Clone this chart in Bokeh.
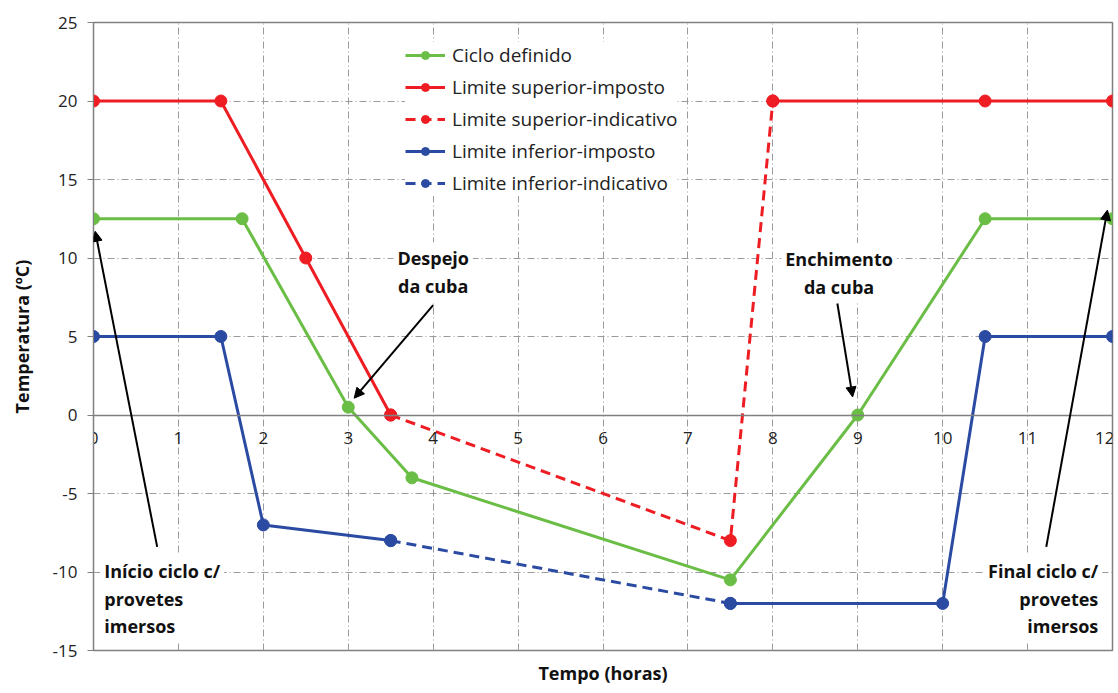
import math
from bokeh.plotting import figure
from bokeh.models import (Range1d, SingleIntervalTicker, Legend, LegendItem, Title,
                          Arrow, NormalHead, ColumnDataSource, PrintfTickFormatter)
from bokeh.core.properties import value
from bokeh.embed import file_html
from bokeh.resources import INLINE

nan = float("nan")

# ---- data (hours, temperature ºC) ----
ciclo_x = [0, 1.75, 3, 3.75, 7.5, 9, 10.5, 12]
ciclo_y = [12.5, 12.5, 0.5, -4, -10.5, 0, 12.5, 12.5]

sup_imposto_x = [0, 1.5, 2.5, 3.5, nan, 8, 10.5, 12]
sup_imposto_y = [20, 20, 10, 0, nan, 20, 20, 20]

sup_indicativo_x = [3.5, 7.5, 8]
sup_indicativo_y = [0, -8, 20]

inf_imposto_x = [0, 1.5, 2, 3.5, nan, 7.5, 10, 10.5, 12]
inf_imposto_y = [5, 5, -7, -8, nan, -12, -12, 5, 5]

inf_indicativo_x = [3.5, 7.5]
inf_indicativo_y = [-8, -12]

series_names = ["Ciclo definido", "Limite superior-imposto", "Limite superior-indicativo",
                "Limite inferior-imposto", "Limite inferior-indicativo"]

# annotations
note_text = ["Despejo\nda cuba", "Enchimento\nda cuba",
             "Início ciclo c/\nprovetes\nimersos", "Final ciclo c/\nprovetes\nimersos"]
note_x = [4.0, 8.78, 0.08, 11.88]
note_y = [9.1, 9.05, -11.7, -11.7]
note_align = ["center", "center", "left", "right"]

arrow_x0 = [4.0, 8.76, 0.75, 11.22]
arrow_y0 = [7.0, 7.1, -8.4, -8.4]
arrow_x1 = [3.07, 8.94, 0.02, 11.94]
arrow_y1 = [1.07, 1.15, 11.7, 13.05]

GREEN = "#6abd45"
RED = "#ee1d23"
BLUE = "#2b4ba3"
FONT = "Open Sans"

p = figure(width=1114, height=693, output_backend="svg", toolbar_location=None,
           x_range=Range1d(0, 12), y_range=Range1d(-15, 25),
           min_border_left=93, min_border_right=2, min_border_top=22, min_border_bottom=41)
p.background_fill_color = "white"
p.border_fill_color = "white"
p.outline_line_color = "#808080"
p.outline_line_width = 1.5

# axes
p.xaxis.ticker = SingleIntervalTicker(interval=1)
p.yaxis.ticker = SingleIntervalTicker(interval=5)
p.yaxis.formatter = PrintfTickFormatter(format="%d")
p.xaxis.fixed_location = 0
p.xaxis.axis_line_color = "#808080"
p.xaxis.axis_line_width = 1.5
p.xaxis.major_tick_out = 0
p.xaxis.major_tick_in = 0
p.xaxis.minor_tick_line_color = None
p.xaxis.major_label_standoff = 13
for ax in (p.xaxis, p.yaxis):
    ax.major_label_text_font = FONT
    ax.major_label_text_font_size = "17px"
    ax.major_label_text_color = "#222222"
p.yaxis.axis_line_color = "#808080"
p.yaxis.major_tick_line_color = "#808080"
p.yaxis.major_tick_out = 6
p.yaxis.major_tick_in = 0
p.yaxis.minor_tick_line_color = None
p.yaxis.major_label_standoff = 10
p.yaxis.axis_label = "Temperatura (ºC)"
p.yaxis.axis_label_text_font = FONT
p.yaxis.axis_label_text_font_style = "bold"
p.yaxis.axis_label_text_font_size = "18px"
p.yaxis.axis_label_text_color = "#111111"
p.yaxis.axis_label_standoff = 16

p.add_layout(Title(text="Tempo (horas)", align="center", text_font=FONT,
                   text_font_size="18px", text_font_style="bold",
                   text_color="#111111", standoff=17), "below")

for g in (p.xgrid, p.ygrid):
    g.grid_line_color = "#9a9a9a"
    g.grid_line_dash = "7 3 1 3"
    g.grid_line_width = 1

# series
def series(x, y, color, dash):
    ln = p.line(x, y, line_color=color, line_width=3, line_dash=dash)
    sc = p.scatter(x, y, size=12, fill_color=color, line_color=color)
    return [ln, sc]

r_ciclo = series(ciclo_x, ciclo_y, GREEN, "solid")
r_sup_ind = series(sup_indicativo_x, sup_indicativo_y, RED, "10 6")
r_sup_imp = series(sup_imposto_x, sup_imposto_y, RED, "solid")
r_inf_ind = series(inf_indicativo_x, inf_indicativo_y, BLUE, "10 6")
r_inf_imp = series(inf_imposto_x, inf_imposto_y, BLUE, "solid")

legend = Legend(items=[
    LegendItem(label=series_names[0], renderers=r_ciclo),
    LegendItem(label=series_names[1], renderers=r_sup_imp),
    LegendItem(label=series_names[2], renderers=r_sup_ind),
    LegendItem(label=series_names[3], renderers=r_inf_imp),
    LegendItem(label=series_names[4], renderers=r_inf_ind),
], location=(312, 454), background_fill_color="white", background_fill_alpha=1.0,
   border_line_color=None, label_text_font=FONT, label_text_font_size="19px",
   label_text_color="#222222", glyph_width=40, glyph_height=20, label_height=22,
   spacing=6, padding=6, margin=0, label_standoff=7)
p.add_layout(legend)

# arrows
arrow_src = ColumnDataSource(dict(x0=arrow_x0, y0=arrow_y0, x1=arrow_x1, y1=arrow_y1))
p.add_layout(Arrow(source=arrow_src, x_start="x0", y_start="y0", x_end="x1", y_end="y1",
                   line_width=2, line_color="black",
                   end=NormalHead(size=10, fill_color="black", line_color="black")))

# annotation texts
note_src = ColumnDataSource(dict(x=note_x, y=note_y, text=note_text, align=note_align))
p.text(x="x", y="y", text="text", source=note_src, text_align="align",
       text_baseline="middle", text_font=value(FONT), text_font_style="bold",
       text_font_size="18px", text_color="#111111", text_line_height=1.15,
       background_fill_color="white", padding=4)

open("out.html", "w").write(file_html(p, INLINE))
